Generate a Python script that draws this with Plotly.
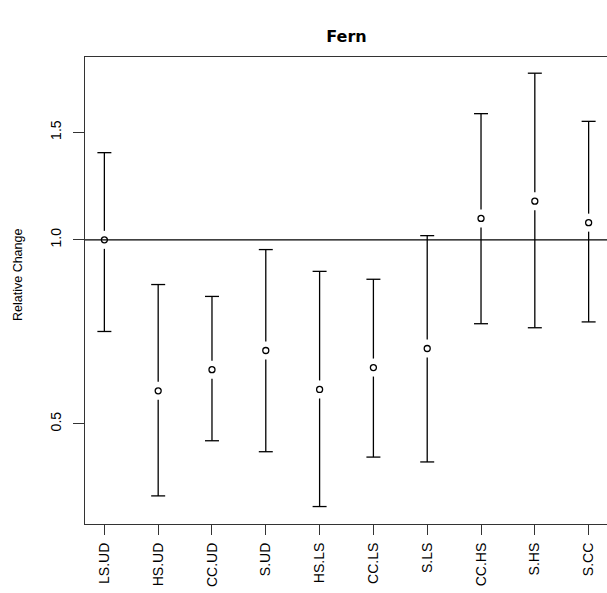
import plotly.graph_objects as go
import numpy as np

categories = ["LS.UD", "HS.UD", "CC.UD", "S.UD", "HS.LS", "CC.LS", "S.LS", "CC.HS", "S.HS", "S.CC"]
estimate = [1.0, 0.566, 0.613, 0.659, 0.569, 0.618, 0.664, 1.084, 1.157, 1.067]
upper = [1.389, 0.845, 0.808, 0.964, 0.888, 0.862, 1.016, 1.609, 1.874, 1.563]
lower = [0.708, 0.381, 0.469, 0.450, 0.366, 0.441, 0.433, 0.729, 0.718, 0.734]
y_ticks = [0.5, 1.0, 1.5]
y_tick_text = ["0.5", "1.0", "1.5"]

FONT = "Liberation Sans, Arial, sans-serif"
W, H = 620, 593
ML, MR, MT, MB = 85, 12, 57, 69
XR = [0.64, 10.36]
YR = [np.log10(0.3427), np.log10(1.992)]

plot_h = H - MT - MB
dec_per_px = (YR[1] - YR[0]) / plot_h
gap = 10 ** (9 * dec_per_px)
cap = 0.13

xs = list(range(1, len(categories) + 1))
seg_x, seg_y = [], []
for x, e, u, l in zip(xs, estimate, upper, lower):
    seg_x += [x, x, None, x, x, None, x - cap, x + cap, None, x - cap, x + cap, None]
    seg_y += [u, e * gap, None, e / gap, l, None, u, u, None, l, l, None]

fig = go.Figure()
fig.add_trace(go.Scatter(x=seg_x, y=seg_y, mode="lines",
                         line=dict(color="black", width=1.3),
                         hoverinfo="skip", showlegend=False))
fig.add_trace(go.Scatter(x=xs, y=estimate, mode="markers",
                         marker=dict(symbol="circle-open", size=6, color="black",
                                     line=dict(color="black", width=1.3)),
                         showlegend=False))

fig.add_shape(type="line", xref="paper", yref="y", x0=0, x1=1, y0=1.0, y1=1.0,
              line=dict(color="black", width=1.3), layer="below")

fig.update_layout(
    width=W, height=H,
    margin=dict(l=ML, r=MR, t=MT, b=MB, autoexpand=False),
    plot_bgcolor="white", paper_bgcolor="white",
    font=dict(family=FONT, size=14, color="black"),
    title=dict(text="<b>Fern</b>", x=346.5 / W, xanchor="center",
               y=1 - 36 / H, yanchor="middle",
               font=dict(family="DejaVu Sans, Verdana, sans-serif", size=16, color="black")),
    xaxis=dict(range=XR, tickmode="array", tickvals=xs, ticktext=categories,
               tickangle=-90, ticks="outside", ticklen=10, tickwidth=1.3,
               tickcolor="#333", showgrid=False, zeroline=False,
               showline=True, mirror=True, linecolor="#333", linewidth=1.3,
               ticklabelstandoff=2, tickfont=dict(size=14)),
    yaxis=dict(type="log", range=YR, tickmode="array", tickvals=y_ticks,
               ticktext=y_tick_text, tickangle=-90, ticks="outside", ticklen=11,
               tickwidth=1.3, tickcolor="#333", showgrid=False, zeroline=False,
               showline=True, mirror=False, linecolor="#333", linewidth=1.3,
               ticklabelstandoff=6, tickfont=dict(size=14)),
    annotations=[dict(text="Relative Change", xref="paper", yref="paper",
                      x=-(85 - 18) / (W - ML - MR), y=(plot_h - (275 - MT)) / plot_h,
                      xanchor="center", yanchor="middle", textangle=-90,
                      showarrow=False, font=dict(family=FONT, size=12.5, color="black"))],
)

fig.write_html("out.html", config={"displayModeBar": False},
               post_script="document.body.style.margin='0';document.body.style.overflow='hidden';")
